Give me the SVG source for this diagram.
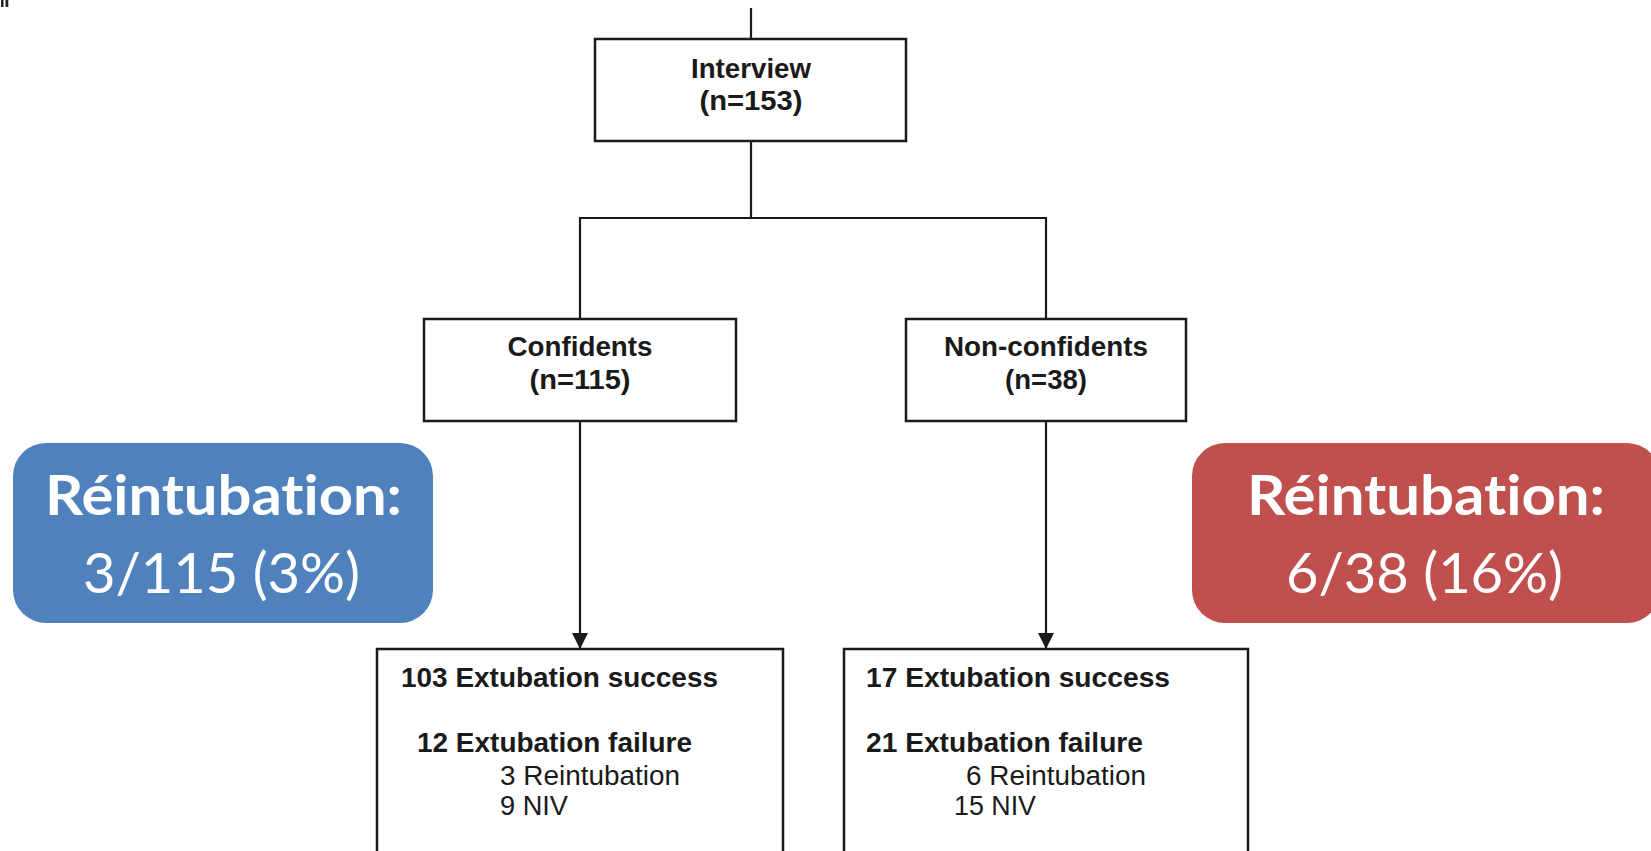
<svg xmlns="http://www.w3.org/2000/svg" width="1651" height="851" viewBox="0 0 1651 851">
<defs>
<style>
.box{fill:#fff;stroke:#1a1a1a;stroke-width:2.5}
.ln{fill:none;stroke:#1a1a1a;stroke-width:2.2}
.t{font-family:"Liberation Sans",Arial,Helvetica,sans-serif;font-size:27px;fill:#1a1a1a}
.b{font-weight:bold}
.c{text-anchor:middle}
.w{font-family:Lato,"Open Sans","Liberation Sans",sans-serif;font-size:56px;fill:#fff;text-anchor:middle;font-variant-ligatures:none;font-feature-settings:"liga" 0}
</style>
<marker id="arr" markerUnits="userSpaceOnUse" viewBox="0 0 16 16" markerWidth="16" markerHeight="16" refX="16" refY="8" orient="auto">
<path d="M0,0 L16,8 L0,16 z" fill="#1a1a1a"/>
</marker>
</defs>
<rect width="1651" height="851" fill="#fff"/>
<g id="fragment">
<rect x="1" y="0" width="2.5" height="7" fill="#222"/>
<rect x="5.5" y="0" width="2.8" height="7" fill="#222"/>
</g>
<g id="connectors">
<line class="ln" x1="751" y1="8" x2="751" y2="39"/>
<line class="ln" x1="751" y1="141" x2="751" y2="218"/>
<line class="ln" x1="579" y1="218" x2="1047" y2="218"/>
<line class="ln" x1="580" y1="218" x2="580" y2="319"/>
<line class="ln" x1="1046" y1="218" x2="1046" y2="319"/>
<line class="ln" x1="580" y1="421" x2="580" y2="649" marker-end="url(#arr)"/>
<line class="ln" x1="1046" y1="421" x2="1046" y2="649" marker-end="url(#arr)"/>
</g>
<g id="interview">
<rect class="box" x="595" y="39" width="311" height="102"/>
<text class="t b c" x="751" y="78" textLength="120" lengthAdjust="spacingAndGlyphs">Interview</text>
<text class="t b c" x="751" y="110" textLength="103" lengthAdjust="spacingAndGlyphs">(n=153)</text>
</g>
<g id="confidents">
<rect class="box" x="424" y="319" width="312" height="102"/>
<text class="t b c" x="580" y="356" textLength="145" lengthAdjust="spacingAndGlyphs">Confidents</text>
<text class="t b c" x="580" y="389" textLength="101" lengthAdjust="spacingAndGlyphs">(n=115)</text>
</g>
<g id="nonconfidents">
<rect class="box" x="906" y="319" width="280" height="102"/>
<text class="t b c" x="1046" y="356" textLength="204" lengthAdjust="spacingAndGlyphs">Non-confidents</text>
<text class="t b c" x="1046" y="389" textLength="82" lengthAdjust="spacingAndGlyphs">(n=38)</text>
</g>
<g id="outcome-confidents">
<rect class="box" x="377" y="649" width="406" height="220"/>
<text class="t b" x="401" y="687" textLength="317" lengthAdjust="spacingAndGlyphs">103 Extubation success</text>
<text class="t b" x="417" y="752" textLength="275" lengthAdjust="spacingAndGlyphs">12 Extubation failure</text>
<text class="t" x="500" y="785" textLength="180" lengthAdjust="spacingAndGlyphs">3 Reintubation</text>
<text class="t" x="500" y="815" textLength="68" lengthAdjust="spacingAndGlyphs">9 NIV</text>
</g>
<g id="outcome-nonconfidents">
<rect class="box" x="844" y="649" width="404" height="220"/>
<text class="t b" x="866" y="687" textLength="304" lengthAdjust="spacingAndGlyphs">17 Extubation success</text>
<text class="t b" x="866" y="752" textLength="277" lengthAdjust="spacingAndGlyphs">21 Extubation failure</text>
<text class="t" x="966" y="785" textLength="180" lengthAdjust="spacingAndGlyphs">6 Reintubation</text>
<text class="t" x="954" y="815" textLength="82" lengthAdjust="spacingAndGlyphs">15 NIV</text>
</g>
<g id="reintubation-confidents">
<rect x="13" y="443" width="420" height="180" rx="33" ry="33" fill="#4F81BD"/>
<text class="w" x="223.5" y="515" font-weight="bold" textLength="357" lengthAdjust="spacingAndGlyphs">Réintubation:</text>
<text class="w" x="221.5" y="593" textLength="277" lengthAdjust="spacingAndGlyphs">3/115 (3%)</text>
</g>
<g id="reintubation-nonconfidents">
<rect x="1192" y="443" width="468" height="180" rx="33" ry="33" fill="#C0504D"/>
<text class="w" x="1426" y="515" font-weight="bold" textLength="358" lengthAdjust="spacingAndGlyphs">Réintubation:</text>
<text class="w" x="1424.5" y="593" textLength="277" lengthAdjust="spacingAndGlyphs">6/38 (16%)</text>
</g>
</svg>
